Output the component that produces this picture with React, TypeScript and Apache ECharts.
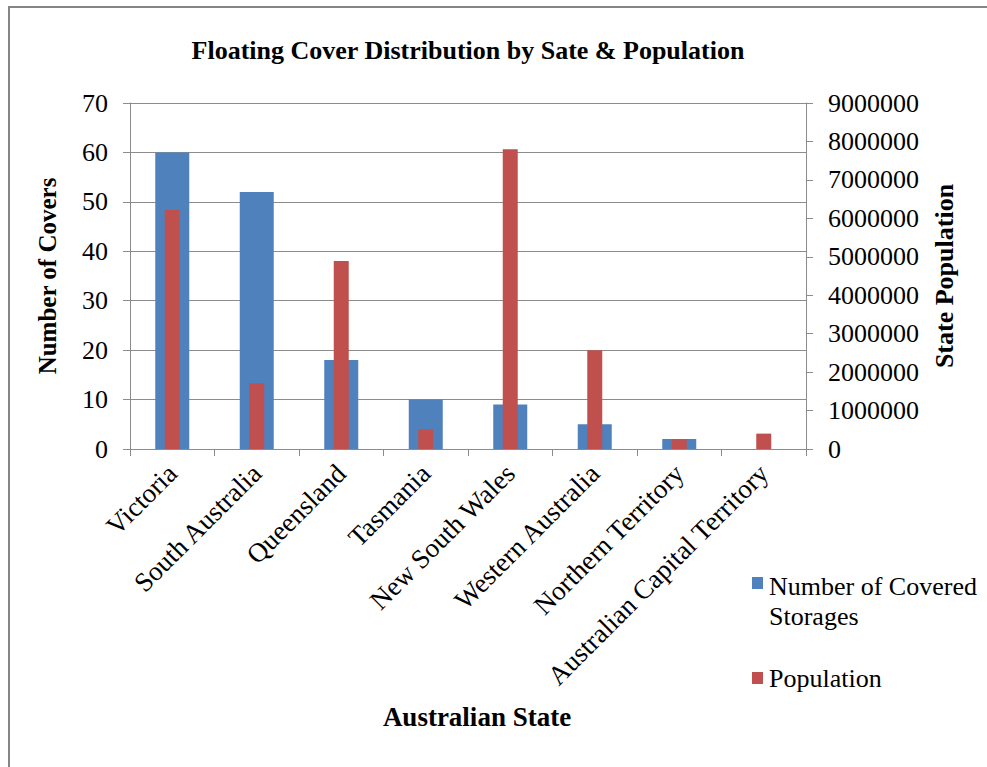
import React, { useEffect, useRef } from "react";
import * as echarts from "echarts";

// Australian states and territories, ordered by number of covered storages
const states = [
  "Victoria",
  "South Australia",
  "Queensland",
  "Tasmania",
  "New South Wales",
  "Western Australia",
  "Northern Territory",
  "Australian Capital Territory",
];

// Number of floating covers per state
const coveredStorages = [60, 52, 18, 10, 9, 5, 2, 0];

// State population
const population = [6220000, 1710000, 4890000, 510000, 7800000, 2570000, 250000, 400000];

const coverTicks = { min: 0, max: 70, interval: 10 };
const popTicks = { min: 0, max: 9000000, interval: 1000000 };

const SERIF = "Liberation Serif";
const GRID_GREY = "#8c8c8c";
const BLUE = "#4f81bd";
const RED = "#c0504d";

const COVER_NAME = "Number of Covered Storages";
const POP_NAME = "Population";

export default function App() {
  const ref = useRef<HTMLDivElement>(null);

  useEffect(() => {
    if (!ref.current) return;
    const chart = echarts.init(ref.current, undefined, { renderer: "svg" });

    const axisLine = { show: true, lineStyle: { color: GRID_GREY, width: 1 } };
    const axisTick = { show: true, inside: false, length: 7, lineStyle: { color: GRID_GREY } };
    const tickLabel = { fontFamily: SERIF, fontSize: 26, color: "#000" };
    const axisName = { fontFamily: SERIF, fontSize: 25, fontWeight: "bold" as const, color: "#000" };
    const legendFont = {
      font: "normal normal 26px 'Liberation Serif', serif",
      fontFamily: SERIF,
      fontSize: 26,
      fill: "#000",
    };

    // Legend block on the right, swatch level with the first line of each entry
    const legendGraphic = {
      type: "group",
      left: 752,
      top: 571,
      silent: true,
      children: [
        { type: "rect", shape: { x: 0, y: 6, width: 11, height: 12 }, style: { fill: BLUE } },
        {
          type: "text",
          x: 17,
          y: 0,
          style: {
            ...legendFont,
            text: "Number of Covered\nStorages",
            lineHeight: 30,
            verticalAlign: "top",
          },
        },
        { type: "rect", shape: { x: 0, y: 101, width: 11, height: 12 }, style: { fill: RED } },
        {
          type: "text",
          x: 17,
          y: 92,
          style: { ...legendFont, text: POP_NAME, lineHeight: 30, verticalAlign: "top" },
        },
      ],
    };

    chart.setOption({
      animation: false,
      backgroundColor: "#fff",
      textStyle: { fontFamily: SERIF, color: "#000" },
      title: {
        text: "Floating Cover Distribution by Sate & Population",
        left: 468,
        top: 37,
        padding: 0,
        textAlign: "center",
        textStyle: { fontFamily: SERIF, fontSize: 26, fontWeight: "bold", color: "#000" },
      },
      graphic: [
        {
          type: "rect",
          silent: true,
          shape: { x: 9, y: 7, width: 1000, height: 800 },
          style: { fill: "none", stroke: "#868686", lineWidth: 2 },
        },
        legendGraphic,
      ],
      grid: { left: 130, right: 181, top: 103, bottom: 318, containLabel: false },
      xAxis: [
        {
          type: "category",
          data: states,
          position: "bottom",
          name: "Australian State",
          nameLocation: "middle",
          nameGap: 254,
          nameTextStyle: { ...axisName, fontSize: 27, padding: [0, 0, 0, 18] },
          axisLine,
          axisTick: { ...axisTick, alignWithLabel: false },
          axisLabel: { ...tickLabel, fontSize: 27, rotate: 45, margin: 20, interval: 0 },
          splitLine: { show: false },
        },
        {
          type: "category",
          data: states,
          position: "bottom",
          show: false,
        },
      ],
      yAxis: [
        {
          type: "value",
          position: "left",
          ...coverTicks,
          name: "Number of Covers",
          nameLocation: "middle",
          nameRotate: 90,
          nameGap: 70,
          nameTextStyle: axisName,
          axisLine,
          axisTick,
          axisLabel: { ...tickLabel, margin: 22 },
          splitLine: { show: true, lineStyle: { color: GRID_GREY, width: 1 } },
        },
        {
          type: "value",
          position: "right",
          ...popTicks,
          name: "State Population",
          nameLocation: "middle",
          nameRotate: 90,
          nameGap: 125,
          nameTextStyle: { ...axisName, fontSize: 26 },
          axisLine,
          axisTick,
          axisLabel: { ...tickLabel, margin: 22, formatter: (v: number) => String(v) },
          splitLine: { show: false },
        },
      ],
      series: [
        {
          name: COVER_NAME,
          type: "bar",
          xAxisIndex: 0,
          yAxisIndex: 0,
          data: coveredStorages,
          barWidth: 34,
          itemStyle: { color: BLUE },
        },
        {
          name: POP_NAME,
          type: "bar",
          xAxisIndex: 1,
          yAxisIndex: 1,
          data: population,
          barWidth: 15,
          itemStyle: { color: RED },
        },
      ],
    });

    return () => chart.dispose();
  }, []);

  return (
    <div
      ref={ref}
      style={{ position: "fixed", left: 0, top: 0, width: 987, height: 767 }}
    />
  );
}
